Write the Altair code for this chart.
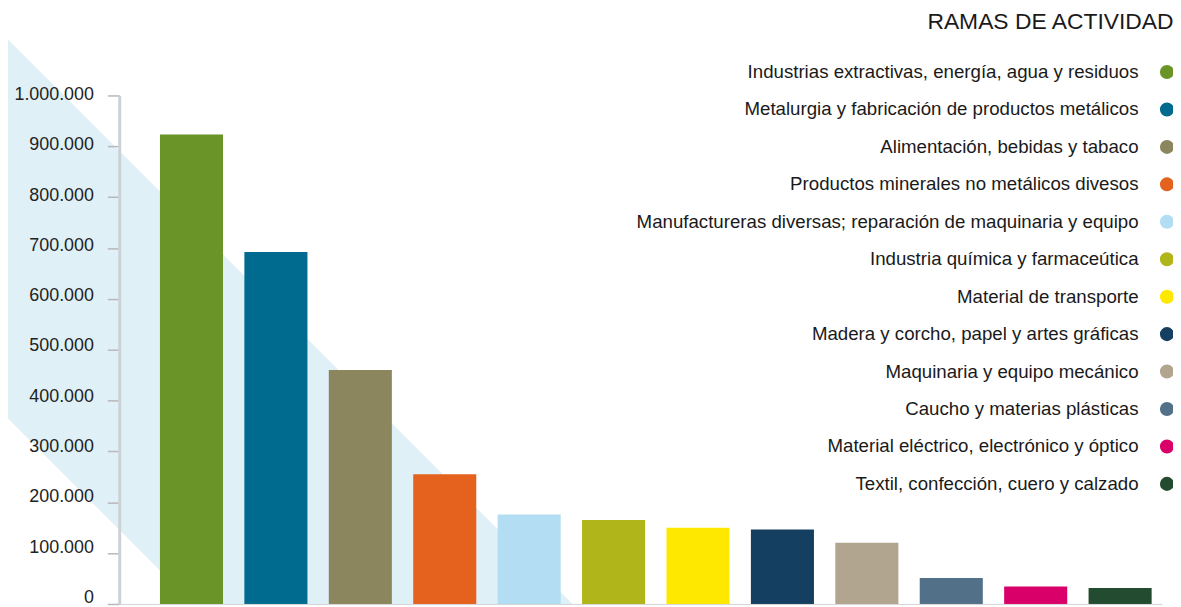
import altair as alt
import pandas as pd

# ---- data ----
categories = [
    "Industrias extractivas, energía, agua y residuos",
    "Metalurgia y fabricación de productos metálicos",
    "Alimentación, bebidas y tabaco",
    "Productos minerales no metálicos divesos",
    "Manufactureras diversas; reparación de maquinaria y equipo",
    "Industria química y farmaceútica",
    "Material de transporte",
    "Madera y corcho, papel y artes gráficas",
    "Maquinaria y equipo mecánico",
    "Caucho y materias plásticas",
    "Material eléctrico, electrónico y óptico",
    "Textil, confección, cuero y calzado",
]
values = [923000, 692000, 460000, 255000, 176000, 165000, 150000, 146500, 120500, 51000, 34500, 31500]
colors = ["#6A9427", "#006B8F", "#8B865D", "#E5621E", "#B3DDF2", "#B0B51A",
          "#FFE800", "#153F60", "#B2A58F", "#527088", "#D90069", "#234B2F"]
y_ticks = [0, 100000, 200000, 300000, 400000, 500000, 600000, 700000, 800000, 900000, 1000000]
legend_title = "RAMAS DE ACTIVIDAD"

df = pd.DataFrame({"rama": categories, "valor": values})

# ---- layout ----
PW, PH = 1050, 512
PAD_L, PAD_T, PAD_R, PAD_B = 112, 86, 11, 1
FONT = "Liberation Sans"

# decorative diagonal band (background), drawn as a gradient-filled rect
W = PAD_L + PW + PAD_R
H = PAD_T + PH + PAD_B
c_top, c_bot = 30, 411  # band edges: y - x = c (canvas px)
k = (W + H) / (W * W + H * H)
t1 = (W + c_top) / (W + H)
t2 = (W + c_bot) / (W + H)
band_color = "#DFF0F7"
gradient = {
    "gradient": "linear",
    "x1": 1, "y1": 0, "x2": 1 - k * W, "y2": k * H,
    "stops": [
        {"offset": 0, "color": "#ffffff"},
        {"offset": t1, "color": "#ffffff"},
        {"offset": t1, "color": band_color},
        {"offset": t2, "color": band_color},
        {"offset": t2, "color": "#ffffff"},
        {"offset": 1, "color": "#ffffff"},
    ],
}

band = alt.Chart(pd.DataFrame({"d": [0]})).mark_rect(color=gradient).encode(
    x=alt.value(-PAD_L), x2=alt.value(PW + PAD_R),
    y=alt.value(-PAD_T), y2=alt.value(PH + PAD_B),
)

step = 85
p_in = 0.253
p_out = (PW / step - (len(categories) - p_in)) / 2
align = 41 / (PW - step * (len(categories) - p_in))

bars = alt.Chart(df).mark_bar().encode(
    x=alt.X("rama:N", sort=categories,
            scale=alt.Scale(domain=categories, paddingInner=p_in, paddingOuter=p_out, align=align),
            axis=alt.Axis(labels=False, ticks=False, title=None, domainColor="#d6d6d6",
                          domainWidth=1, zindex=1)),
    y=alt.Y("valor:Q", scale=alt.Scale(domain=[0, 1000000], nice=False),
            axis=alt.Axis(values=y_ticks, title=None, grid=False, zindex=1,
                          labelExpr="replace(replace(format(datum.value, ','), ',', '.'), ',', '.')",
                          labelFont=FONT, labelFontSize=18, labelColor="#222222", labelPadding=14,
                          labelOffset={"expr": "datum.value / 180000 - 6.5"},
                          tickSize=12, tickColor="#b8b8b8", tickWidth=1.5,
                          domainColor="#ccd1d6", domainWidth=3)),
    color=alt.Color("rama:N", scale=alt.Scale(domain=categories, range=colors),
                    legend=alt.Legend(
                        orient="none", legendX=812.5, legendY=-85,
                        title=legend_title, titleFont=FONT, titleFontSize=23,
                        titleFontWeight="normal", titleColor="#1a1a1a",
                        titleAnchor="end", titlePadding=29, titleLimit=600,
                        labelFont=FONT, labelFontSize=18.8, labelColor="#1a1a1a",
                        labelAlign="right", labelOffset={"expr": "-38"}, labelLimit=1000,
                        symbolType="circle", symbolSize=200, symbolStrokeWidth=0,
                        symbolOpacity=1, rowPadding=17.7, padding=0)),
)

chart = alt.layer(band, bars).properties(
    width=PW, height=PH,
    autosize=alt.AutoSizeParams(type="none"),
    padding={"left": PAD_L, "top": PAD_T, "right": PAD_R, "bottom": PAD_B},
).configure_view(stroke=None)

chart.save("out.html", embed_options={"renderer": "svg", "actions": False})
